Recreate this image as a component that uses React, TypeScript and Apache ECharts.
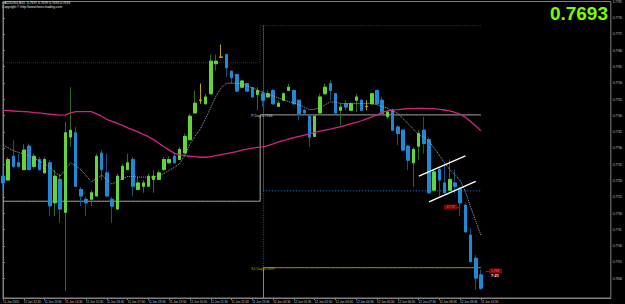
import React, { useEffect, useRef } from "react";
import * as echarts from "echarts";

// x-axis tick labels (one every 4 M15 bars)
const timeLabels = [
  "11 Jun 2015", "11 Jun 12:30", "11 Jun 13:30", "11 Jun 14:30", "11 Jun 15:30", "11 Jun 16:30",
  "11 Jun 17:30", "11 Jun 18:30", "11 Jun 19:30", "11 Jun 20:30", "11 Jun 21:30", "11 Jun 22:30",
  "11 Jun 23:30", "12 Jun 00:30", "12 Jun 01:30", "12 Jun 02:30", "12 Jun 03:30", "12 Jun 04:30",
  "12 Jun 05:30", "12 Jun 06:30", "12 Jun 07:30", "12 Jun 08:30", "12 Jun 09:30", "12 Jun 10:30",
];
const labelEvery = 4;
const futureSlots = 25; // empty chart-shift area on the right

// price-axis tick labels
const yTicks = [
  0.7696, 0.7701, 0.7706, 0.7711, 0.7716, 0.7721, 0.7726, 0.7731, 0.7736,
  0.7741, 0.7746, 0.7751, 0.7756, 0.7761, 0.7766, 0.7771, 0.7776, 0.7781,
];
const yMin = 0.769;
const yMax = 0.7781;

// candles: [open, close, low, high]
const ohlc: number[][] = [
  [0.77274, 0.77253, 0.77226, 0.77287], [0.77262, 0.77325, 0.77262, 0.77333],
  [0.77335, 0.77304, 0.77298, 0.77384], [0.77315, 0.77304, 0.77298, 0.77343],
  [0.77294, 0.77354, 0.77292, 0.77372], [0.77366, 0.77294, 0.77292, 0.77374],
  [0.77304, 0.77335, 0.77298, 0.77343], [0.77325, 0.77294, 0.77292, 0.77333],
  [0.77284, 0.77325, 0.77282, 0.77333], [0.77315, 0.77183, 0.77151, 0.77323],
  [0.77192, 0.77274, 0.77151, 0.77292], [0.77264, 0.77173, 0.77131, 0.77282],
  [0.77163, 0.77407, 0.76922, 0.7744], [0.77394, 0.77415, 0.77364, 0.77547],
  [0.77407, 0.77243, 0.77241, 0.77425], [0.77233, 0.77213, 0.77182, 0.77241],
  [0.77203, 0.77192, 0.77151, 0.77211], [0.77203, 0.77223, 0.77182, 0.77231],
  [0.77213, 0.77335, 0.77211, 0.77343], [0.77345, 0.77294, 0.77262, 0.77354],
  [0.77284, 0.77213, 0.77211, 0.77343], [0.77203, 0.77182, 0.77131, 0.77211],
  [0.77173, 0.77274, 0.7717, 0.77282], [0.77264, 0.77304, 0.77262, 0.77313],
  [0.77294, 0.77315, 0.77292, 0.77343], [0.77325, 0.77243, 0.77213, 0.77333],
  [0.77233, 0.77253, 0.77231, 0.77272], [0.77243, 0.77253, 0.77223, 0.77262],
  [0.77243, 0.77274, 0.77241, 0.77282], [0.77264, 0.77274, 0.77223, 0.77292],
  [0.77264, 0.77284, 0.77262, 0.77292], [0.77294, 0.77325, 0.77292, 0.77333],
  [0.77315, 0.77325, 0.77313, 0.77335], [0.77335, 0.77315, 0.77313, 0.77343],
  [0.77325, 0.77356, 0.77323, 0.77364], [0.77345, 0.77396, 0.77343, 0.77405],
  [0.77386, 0.77458, 0.77384, 0.77466], [0.77468, 0.77498, 0.77466, 0.77537],
  [0.77507, 0.77507, 0.77496, 0.77558], [0.77496, 0.77517, 0.77494, 0.77527],
  [0.77527, 0.77627, 0.77525, 0.77647], [0.77619, 0.77627, 0.77598, 0.77647],
  [0.77639, 0.77639, 0.77637, 0.77678], [0.77647, 0.77607, 0.77578, 0.7765],
  [0.77596, 0.77576, 0.77558, 0.77598], [0.77586, 0.77535, 0.77532, 0.77588],
  [0.77547, 0.77566, 0.77546, 0.7757], [0.77558, 0.77535, 0.77532, 0.7756],
  [0.77546, 0.77517, 0.77515, 0.77547], [0.77525, 0.77537, 0.77476, 0.77547],
  [0.77527, 0.77507, 0.77486, 0.77537], [0.77517, 0.77527, 0.77515, 0.77537],
  [0.77537, 0.77496, 0.77494, 0.77542], [0.77488, 0.77498, 0.77486, 0.77507],
  [0.77507, 0.77527, 0.77504, 0.77532], [0.77537, 0.77547, 0.77535, 0.77558],
  [0.77537, 0.77496, 0.77494, 0.77539], [0.77507, 0.77466, 0.77445, 0.77509],
  [0.77476, 0.77468, 0.77466, 0.77481], [0.77458, 0.77394, 0.77364, 0.77461],
  [0.77396, 0.77458, 0.77394, 0.77461], [0.77468, 0.77517, 0.77466, 0.77527],
  [0.77527, 0.77547, 0.77525, 0.77558], [0.77558, 0.77537, 0.77507, 0.77568],
  [0.77527, 0.77468, 0.77466, 0.77529], [0.77476, 0.77486, 0.7743, 0.77496],
  [0.77496, 0.77486, 0.77476, 0.77507], [0.77476, 0.77496, 0.77474, 0.77501],
  [0.77507, 0.77517, 0.77471, 0.77527], [0.77507, 0.77476, 0.77474, 0.77509],
  [0.77488, 0.77488, 0.77476, 0.77507], [0.77496, 0.77527, 0.77494, 0.77529],
  [0.77537, 0.77496, 0.77494, 0.77539], [0.77507, 0.77466, 0.77461, 0.77517],
  [0.77456, 0.77471, 0.77451, 0.77476], [0.77476, 0.77415, 0.77412, 0.77482],
  [0.77425, 0.77405, 0.77369, 0.7743], [0.77415, 0.77354, 0.7735, 0.77418],
  [0.77366, 0.77323, 0.77292, 0.77369], [0.77315, 0.77356, 0.77241, 0.77363],
  [0.77366, 0.77405, 0.77323, 0.77415], [0.77415, 0.77374, 0.77343, 0.77456],
  [0.77386, 0.77223, 0.77221, 0.77394], [0.77231, 0.77287, 0.77226, 0.77295],
  [0.77294, 0.77262, 0.77211, 0.77302], [0.77253, 0.77223, 0.77221, 0.77308],
  [0.77231, 0.77264, 0.77229, 0.77325], [0.77253, 0.77243, 0.77221, 0.77294],
  [0.77236, 0.77192, 0.77151, 0.77241], [0.77185, 0.77103, 0.771, 0.7719],
  [0.77093, 0.77012, 0.77008, 0.77114], [0.77022, 0.76961, 0.76925, 0.77032],
  [0.76971, 0.7693, 0.76925, 0.76986],
];

// slow moving average (magenta)
const slowMA = [
  0.77476, 0.77475, 0.77474, 0.77473, 0.77472, 0.77471, 0.77469, 0.77468, 0.77466, 0.77464,
  0.77463, 0.77461, 0.77462, 0.77468, 0.77472, 0.77472, 0.77472, 0.77472, 0.77465, 0.77458,
  0.77448, 0.77442, 0.77436, 0.7743, 0.77422, 0.77416, 0.7741, 0.77402, 0.77395, 0.77386,
  0.77375, 0.77364, 0.77354, 0.77344, 0.7734, 0.77337, 0.77335, 0.77334, 0.77332, 0.77332,
  0.77334, 0.77337, 0.7734, 0.77343, 0.77346, 0.77349, 0.77354, 0.77357, 0.7736, 0.77362,
  0.77364, 0.77368, 0.77373, 0.77379, 0.77383, 0.77388, 0.77392, 0.77396, 0.774, 0.77404,
  0.77408, 0.77412, 0.77415, 0.77418, 0.77422, 0.77426, 0.7743, 0.77435, 0.77439, 0.77444,
  0.7745, 0.77456, 0.77462, 0.7747, 0.77474, 0.77477, 0.77478, 0.7748, 0.77481, 0.77481,
  0.77482, 0.77482, 0.77481, 0.77481, 0.77479, 0.77477, 0.77474, 0.7747, 0.77464, 0.77455,
  0.77442, 0.77428, 0.77413,
];

// fast moving average (grey dotted)
const fastMA = [
  0.7737, 0.77361, 0.77352, 0.77347, 0.77342, 0.77336, 0.77329, 0.7732, 0.77312, 0.77302,
  0.77286, 0.77274, 0.77294, 0.77315, 0.77306, 0.77294, 0.77275, 0.77257, 0.77266, 0.77277,
  0.77263, 0.77249, 0.77259, 0.77266, 0.77273, 0.77273, 0.77271, 0.77271, 0.77271, 0.77271,
  0.77275, 0.77282, 0.77292, 0.77301, 0.77312, 0.77338, 0.77373, 0.77398, 0.77419, 0.77451,
  0.77485, 0.7752, 0.77545, 0.77559, 0.77559, 0.77559, 0.77558, 0.77551, 0.77545, 0.77538,
  0.77531, 0.77526, 0.7752, 0.77514, 0.77508, 0.77503, 0.77498, 0.77493, 0.77486, 0.77478,
  0.77479, 0.77484, 0.77493, 0.77502, 0.77501, 0.77497, 0.77497, 0.77497, 0.77497, 0.77497,
  0.77497, 0.77497, 0.77493, 0.77487, 0.77483, 0.77474, 0.77467, 0.7745, 0.77435, 0.77418,
  0.77401, 0.77393, 0.77382, 0.7736, 0.77338, 0.77315, 0.77294, 0.77279, 0.7726, 0.77227,
  0.7718, 0.77136, 0.77093,
];

// daily levels
const dayBreakIndex = 50;
const prevDayHigh = [0.77622, 0.77736]; // before / after day break
const pivotLevel = [0.77197, 0.77462]; // before / after day break
const dayLowLevel = 0.77229;
const s1Level = 0.76993;
const bidPrice = 0.7693;

// hand-drawn channel: [barIndex, price]
const channelUpper = [[80.05, 0.77274], [89.0, 0.77336]];
const channelLower = [[82.0, 0.77195], [91.0, 0.77258]];

// price tags: [barIndex, price]
const tagMid = [86.17, 0.77179];
const tagEnd = [94.8, 0.76983];
const timerPos = [94.7, 0.76968];
const pDayLabelPos = [47.7, 0.77458];
const s1LabelPos = [47.7, 0.76989];

const BULL = "#62d43c";
const BEAR = "#1e8ad6";
const BULL_WICK = "#2f6a22";
const BEAR_WICK = "#1b4f7e";
const DOJI = "#b8a50a";
const FONT = "Liberation Sans";

export default function App() {
  const ref = useRef<HTMLDivElement>(null);

  useEffect(() => {
    const chart = echarts.init(ref.current!, null, { renderer: "svg" });
    const total = ohlc.length + futureSlots;
    const categories = Array.from({ length: total }, (_, i) => String(i));
    const showLabel = (i: number) => i % labelEvery === 0 && i / labelEvery < timeLabels.length;
    const fmt = (v: number) => v.toFixed(4);

    const levelSeries = (name: string, data: any[], color: string, type: string, width: number, step?: string) => ({
      name,
      type: "line",
      data,
      step: step || false,
      symbol: "none",
      silent: true,
      z: 1,
      lineStyle: { color, type, width },
    });

    const option: any = {
      animation: false,
      backgroundColor: "#000000",
      grid: {
        left: 1, right: 13, top: 1, bottom: 6,
        show: true, borderColor: "#808080", borderWidth: 1, backgroundColor: "#000000",
      },
      xAxis: [
        {
          type: "category",
          data: categories,
          boundaryGap: false,
          axisLine: { show: true, lineStyle: { color: "#808080", width: 1 } },
          axisTick: { show: true, interval: (i: number) => showLabel(i), length: 2, lineStyle: { color: "#808080" } },
          axisLabel: {
            interval: (i: number) => showLabel(i),
            formatter: (_v: string, i: number) => timeLabels[i / labelEvery] || "",
            align: "left",
            fontSize: 3,
            fontFamily: FONT,
            color: "#c8c8c8",
            margin: 2,
          },
          splitLine: { show: false },
        },
        { type: "value", min: 0, max: total - 1, show: false },
      ],
      yAxis: {
        type: "value",
        position: "right",
        min: yMin,
        max: yMax,
        splitLine: { show: false },
        axisLine: { show: true, lineStyle: { color: "#808080", width: 1 } },
        axisTick: { show: true, length: 2, customValues: yTicks, lineStyle: { color: "#808080" } },
        axisLabel: {
          customValues: yTicks,
          formatter: (v: number) => fmt(v),
          fontSize: 3,
          fontFamily: FONT,
          color: "#c8c8c8",
          margin: 2,
        },
      },
      graphic: [
        {
          type: "text", left: 2, top: 1.3,
          style: { text: "▪ AUDUSD,M15  0.7697 0.7699 0.7693 0.7693", fill: "#e6e6e6", fontSize: 3.3, fontFamily: FONT },
        },
        {
          type: "text", left: 2, top: 5.6,
          style: { text: "Copyright © http://www.forex-trading.com", fill: "#e6e6e6", fontSize: 3.3, fontFamily: FONT },
        },
        {
          type: "text", right: 17, top: 4,
          style: { text: fmt(bidPrice), fill: "#7cfc00", fontSize: 19, fontWeight: "bold", fontFamily: FONT },
        },
      ],
      series: [
        levelSeries("prevHigh", ohlc.map((_, i) => (i < dayBreakIndex ? prevDayHigh[0] : prevDayHigh[1])), "#a00000", "dotted", 1, "middle"),
        levelSeries("pivot", ohlc.map((_, i) => (i < dayBreakIndex ? pivotLevel[0] : pivotLevel[1])), "#a8a8a8", "solid", 1, "middle"),
        levelSeries("dayLow", ohlc.map((_, i) => (i >= dayBreakIndex ? dayLowLevel : "-")), "#173f78", "dotted", 1.5),
        levelSeries("s1", ohlc.map((_, i) => (i >= dayBreakIndex ? s1Level : "-")), "#9c9410", "solid", 1),
        {
          name: "wicks",
          type: "candlestick",
          data: ohlc,
          barWidth: 3,
          z: 2,
          silent: true,
          itemStyle: {
            color: BULL_WICK, color0: BEAR_WICK,
            borderColor: BULL_WICK, borderColor0: BEAR_WICK, borderColorDoji: DOJI, borderWidth: 1,
          },
        },
        {
          name: "bodies",
          type: "candlestick",
          data: ohlc.map(([o, c]) => [o, c, Math.min(o, c), Math.max(o, c)]),
          barWidth: 3,
          z: 3,
          silent: true,
          itemStyle: {
            color: BULL, color0: BEAR,
            borderColor: BULL, borderColor0: BEAR, borderColorDoji: DOJI, borderWidth: 1,
          },
        },
        {
          name: "slowMA", type: "line", data: slowMA, symbol: "none", silent: true, z: 4,
          lineStyle: { color: "#d4237f", width: 1.3 },
        },
        {
          name: "fastMA", type: "line", data: fastMA, symbol: "none", silent: true, z: 4,
          lineStyle: { color: "#a8a8a8", width: 1, type: "dotted" },
        },
        {
          name: "channelUpper", type: "line", xAxisIndex: 1, data: channelUpper, symbol: "none", silent: true, z: 5,
          lineStyle: { color: "#ffffff", width: 1.3 },
        },
        {
          name: "channelLower", type: "line", xAxisIndex: 1, data: channelLower, symbol: "none", silent: true, z: 5,
          lineStyle: { color: "#ffffff", width: 1.3 },
        },
        {
          name: "annotations",
          type: "line",
          xAxisIndex: 1,
          data: [],
          silent: true,
          z: 6,
          markLine: {
            silent: true,
            symbol: ["none", "none"],
            animation: false,
            label: { show: false },
            data: [
              [
                { coord: [dayBreakIndex, prevDayHigh[1]], lineStyle: { color: "#8c8c8c", type: "dotted", width: 1 } },
                { coord: [dayBreakIndex, dayLowLevel] },
              ],
              [
                { coord: [dayBreakIndex, dayLowLevel], lineStyle: { color: "#173f78", type: "dotted", width: 1.2 } },
                { coord: [dayBreakIndex, s1Level] },
              ],
              [
                { coord: [dayBreakIndex, s1Level], lineStyle: { color: "#9c9410", type: "solid", width: 1 } },
                { coord: [dayBreakIndex, yMin] },
              ],
              [
                { coord: [tagMid[0] + 1.1, tagMid[1]], lineStyle: { color: "#c00000", width: 1, type: "solid" } },
                { coord: [tagMid[0] + 1.9, tagMid[1]] },
              ],
              [
                { coord: [tagEnd[0] - 1.9, tagEnd[1]], lineStyle: { color: "#c00000", width: 1, type: "solid" } },
                { coord: [tagEnd[0] - 1.15, tagEnd[1]] },
              ],
              [
                {
                  yAxis: bidPrice,
                  lineStyle: { color: "#8c8c8c", width: 1, type: "solid" },
                  label: {
                    show: true, position: "end", formatter: fmt(bidPrice), distance: 1,
                    backgroundColor: "#ffffff", color: "#000000", fontSize: 3, fontFamily: FONT, padding: [0.5, 1],
                  },
                },
                { yAxis: bidPrice },
              ],
            ],
          },
          markPoint: {
            silent: true,
            animation: false,
            data: [
              {
                coord: tagMid, symbol: "rect", symbolSize: [12, 4],
                itemStyle: { color: "#7a0000", borderColor: "#d00000", borderWidth: 0.5 },
                label: { show: true, position: "inside", formatter: fmt(tagMid[1]), fontSize: 2.6, color: "#ff7070", fontFamily: FONT },
              },
              {
                coord: tagEnd, symbol: "rect", symbolSize: [12, 4],
                itemStyle: { color: "#7a0000", borderColor: "#d00000", borderWidth: 0.5 },
                label: { show: true, position: "inside", formatter: fmt(tagEnd[1]), fontSize: 2.6, color: "#ff7070", fontFamily: FONT },
              },
              {
                coord: timerPos, symbol: "circle", symbolSize: 1,
                itemStyle: { color: "rgba(0,0,0,0)" },
                label: { show: true, position: "inside", formatter: "7:21", fontSize: 4, fontWeight: "bold", color: "#ffffff", fontFamily: FONT },
              },
              {
                coord: pDayLabelPos, symbol: "circle", symbolSize: 1,
                itemStyle: { color: "rgba(0,0,0,0)" },
                label: { show: true, position: "right", distance: 0, formatter: "P Day " + fmt(pivotLevel[1]), fontSize: 3.5, color: "#c8c8c8", fontFamily: FONT },
              },
              {
                coord: s1LabelPos, symbol: "circle", symbolSize: 1,
                itemStyle: { color: "rgba(0,0,0,0)" },
                label: { show: true, position: "right", distance: 0, formatter: "S1 Day " + fmt(s1Level), fontSize: 3.5, color: "#b8a50a", fontFamily: FONT },
              },
            ],
          },
        },
      ],
    };

    chart.setOption(option);
    return () => chart.dispose();
  }, []);

  return (
    <div
      ref={ref}
      style={{ position: "fixed", left: 0, top: 0, width: 625, height: 304, background: "#000000" }}
    />
  );
}
